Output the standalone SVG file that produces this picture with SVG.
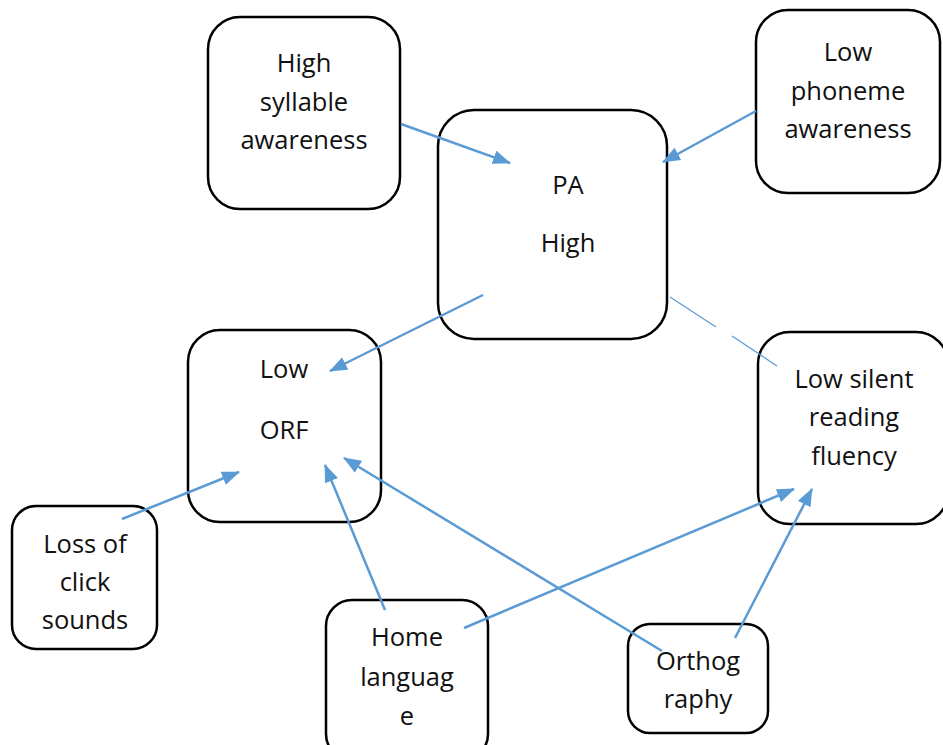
<svg xmlns="http://www.w3.org/2000/svg" width="943" height="745" viewBox="0 0 943 745">
<defs>
<style>
.n{fill:#fff;stroke:#000;stroke-width:2.5}
.t{font-family:"Open Sans","Liberation Sans",sans-serif;font-size:25.5px;fill:#111;text-anchor:middle}
.c{stroke:#5B9BD5;stroke-width:2.5;fill:none}
.thin{stroke:#5B9BD5;stroke-width:1.3;fill:none}
</style>
<marker id="ah" markerUnits="userSpaceOnUse" markerWidth="18" markerHeight="14" refX="17" refY="7" orient="auto">
<path d="M0,0 L18,7 L0,14 z" fill="#5B9BD5"/>
</marker>
</defs>
<rect width="943" height="745" fill="#fff"/>
<g id="high-syllable"><rect class="n" x="208" y="17" width="192" height="192" rx="32"/>
<text class="t" x="304" y="72">High</text><text class="t" x="304" y="111">syllable</text><text class="t" x="304" y="149">awareness</text></g>
<g id="low-phoneme"><rect class="n" x="756" y="10" width="184" height="183" rx="32"/>
<text class="t" x="848" y="61">Low</text><text class="t" x="848" y="100">phoneme</text><text class="t" x="848" y="138">awareness</text></g>
<g id="pa-high"><rect class="n" x="438" y="110" width="229" height="229" rx="36"/>
<text class="t" x="568" y="194">PA</text><text class="t" x="568" y="252">High</text></g>
<g id="low-orf"><rect class="n" x="188" y="330" width="193" height="192" rx="32"/>
<text class="t" x="284" y="378">Low</text><text class="t" x="284" y="439">ORF</text></g>
<g id="low-silent"><rect class="n" x="758" y="332" width="190" height="192" rx="32"/>
<text class="t" x="854" y="388">Low silent</text><text class="t" x="854" y="426">reading</text><text class="t" x="854" y="465">fluency</text></g>
<g id="loss-click"><rect class="n" x="12" y="506" width="145" height="143" rx="24"/>
<text class="t" x="85" y="553">Loss of</text><text class="t" x="85" y="591">click</text><text class="t" x="85" y="629">sounds</text></g>
<g id="home-language"><rect class="n" x="326" y="600" width="162" height="160" rx="26"/>
<text class="t" x="407" y="646">Home</text><text class="t" x="407" y="686">languag</text><text class="t" x="407" y="725">e</text></g>
<g id="orthography"><rect class="n" x="628" y="624" width="140" height="109" rx="22"/>
<text class="t" x="698" y="670">Orthog</text><text class="t" x="698" y="708">raphy</text></g>
<g id="connectors">
<line class="c" x1="401" y1="124" x2="510" y2="163" marker-end="url(#ah)"/>
<line class="c" x1="756" y1="111" x2="663" y2="162" marker-end="url(#ah)"/>
<line class="c" x1="483" y1="295" x2="330" y2="371" marker-end="url(#ah)"/>
<line class="thin" x1="670" y1="297" x2="716" y2="327"/>
<line class="thin" x1="732" y1="336" x2="777" y2="366"/>
<line class="c" x1="122" y1="519" x2="239" y2="472" marker-end="url(#ah)"/>
<line class="c" x1="385" y1="610" x2="325" y2="465" marker-end="url(#ah)"/>
<line class="c" x1="662" y1="651" x2="344" y2="458" marker-end="url(#ah)"/>
<line class="c" x1="464" y1="628" x2="794" y2="489" marker-end="url(#ah)"/>
<line class="c" x1="735" y1="638" x2="812" y2="489" marker-end="url(#ah)"/>
</g>
</svg>
